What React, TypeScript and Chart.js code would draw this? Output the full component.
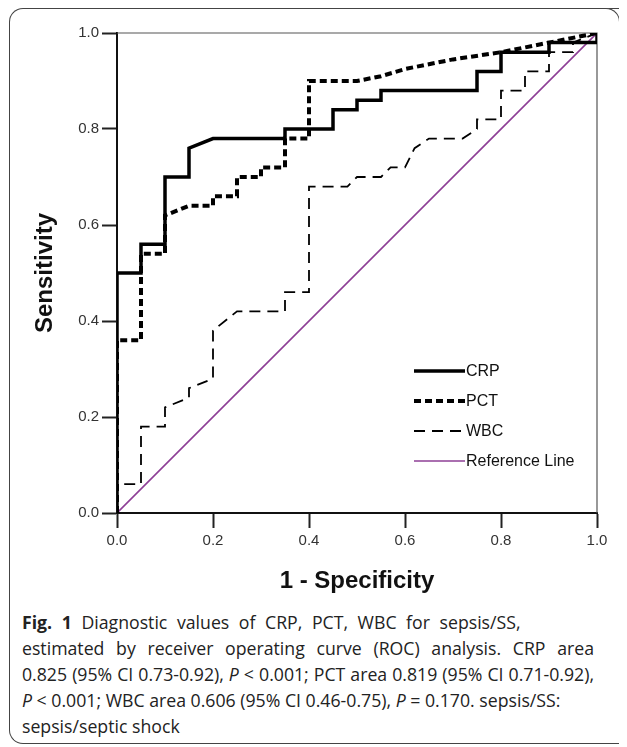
import React, { useEffect, useRef } from "react";
import { Chart, registerables } from "chart.js";

Chart.register(...registerables);

const crpX = [0, 0, 0.05, 0.05, 0.1, 0.1, 0.15, 0.15, 0.2, 0.35, 0.35, 0.45, 0.45, 0.5, 0.5, 0.55, 0.55, 0.75, 0.75, 0.8, 0.8, 0.9, 0.9, 1.0, 1.0];
const crpY = [0, 0.5, 0.5, 0.56, 0.56, 0.7, 0.7, 0.76, 0.78, 0.78, 0.8, 0.8, 0.84, 0.84, 0.86, 0.86, 0.88, 0.88, 0.92, 0.92, 0.96, 0.96, 0.98, 0.98, 1.0];

const pctX = [0, 0, 0.05, 0.05, 0.1, 0.1, 0.15, 0.2, 0.2, 0.25, 0.25, 0.3, 0.3, 0.35, 0.35, 0.4, 0.4, 0.5, 0.55, 0.6, 0.7, 0.8, 0.9, 1.0];
const pctY = [0, 0.36, 0.36, 0.54, 0.54, 0.62, 0.64, 0.64, 0.66, 0.66, 0.7, 0.7, 0.72, 0.72, 0.78, 0.78, 0.9, 0.9, 0.91, 0.925, 0.945, 0.96, 0.98, 1.0];

const wbcX = [0, 0, 0.05, 0.05, 0.1, 0.1, 0.15, 0.15, 0.2, 0.2, 0.25, 0.35, 0.35, 0.4, 0.4, 0.48, 0.5, 0.55, 0.57, 0.6, 0.62, 0.65, 0.72, 0.75, 0.75, 0.8, 0.8, 0.85, 0.85, 0.9, 0.9, 0.95, 0.95, 1.0];
const wbcY = [0, 0.06, 0.06, 0.18, 0.18, 0.22, 0.24, 0.26, 0.28, 0.38, 0.42, 0.42, 0.46, 0.46, 0.68, 0.68, 0.7, 0.7, 0.72, 0.72, 0.76, 0.78, 0.78, 0.8, 0.82, 0.82, 0.88, 0.88, 0.92, 0.92, 0.96, 0.96, 0.98, 1.0];

const refX = [0, 1];
const refY = [0, 1];

const seriesLabels = ["CRP", "PCT", "WBC", "Reference Line"];
const axisTicks = [0, 0.2, 0.4, 0.6, 0.8, 1.0];

const zip = (xs: number[], ys: number[]) => xs.map((x, i) => ({ x, y: ys[i] }));

const frameLines = {
  id: "frameLines",
  beforeDatasetsDraw(chart: any) {
    const { ctx, chartArea } = chart;
    ctx.save();
    ctx.strokeStyle = "#555";
    ctx.lineWidth = 1.2;
    ctx.beginPath();
    ctx.moveTo(chartArea.left, chartArea.top);
    ctx.lineTo(chartArea.right, chartArea.top);
    ctx.lineTo(chartArea.right, chartArea.bottom);
    ctx.stroke();
    ctx.restore();
  },
};

const insideLegend = {
  id: "insideLegend",
  afterDraw(chart: any) {
    const { ctx, chartArea } = chart;
    const x0 = chartArea.left + 297;
    const len = 51;
    chart.data.datasets.forEach((ds: any, i: number) => {
      const y = chartArea.top + 338 + i * 30;
      ctx.save();
      ctx.strokeStyle = ds.borderColor;
      ctx.lineWidth = ds.borderWidth;
      ctx.lineCap = "butt";
      ctx.setLineDash(ds.borderDash || []);
      ctx.beginPath();
      ctx.moveTo(x0, y);
      ctx.lineTo(x0 + len, y);
      ctx.stroke();
      ctx.setLineDash([]);
      ctx.fillStyle = "#111";
      ctx.font = '16px "Liberation Sans", Arial, sans-serif';
      ctx.textBaseline = "middle";
      ctx.fillText(ds.label, x0 + len + 1, y + 1);
      ctx.restore();
    });
  },
};

function RocChart() {
  const ref = useRef<HTMLCanvasElement | null>(null);
  useEffect(() => {
    if (!ref.current) return;
    const tickFont = { family: '"Liberation Sans", Arial, sans-serif', size: 15 };
    const titleFont = { family: '"Liberation Sans", Arial, sans-serif', size: 24, weight: "bold" as const };
    const chart = new Chart(ref.current, {
      type: "line",
      data: {
        datasets: [
          {
            label: seriesLabels[0],
            data: zip(crpX, crpY),
            borderColor: "#000",
            borderWidth: 3.5,
            pointRadius: 0,
            tension: 0,
            fill: false,
          },
          {
            label: seriesLabels[1],
            data: zip(pctX, pctY),
            borderColor: "#000",
            borderWidth: 4,
            borderDash: [7, 4],
            borderCapStyle: "butt",
            pointRadius: 0,
            tension: 0,
            fill: false,
          },
          {
            label: seriesLabels[2],
            data: zip(wbcX, wbcY),
            borderColor: "#000",
            borderWidth: 1.8,
            borderDash: [11, 7],
            pointRadius: 0,
            tension: 0,
            fill: false,
          },
          {
            label: seriesLabels[3],
            data: zip(refX, refY),
            borderColor: "#8e3f96",
            borderWidth: 1.6,
            pointRadius: 0,
            tension: 0,
            fill: false,
          },
        ],
      },
      options: {
        animation: false,
        responsive: false,
        devicePixelRatio: 1,
        layout: { padding: { left: 0, top: 18, right: 22, bottom: 0 } },
        plugins: { legend: { display: false }, tooltip: { enabled: false } },
        scales: {
          x: {
            type: "linear",
            min: 0,
            max: 1,
            afterBuildTicks: (s: any) => {
              s.ticks = axisTicks.map((v) => ({ value: v }));
            },
            afterFit: (s: any) => {
              s.height = 87;
            },
            ticks: {
              font: tickFont,
              color: "#333",
              padding: 4,
              maxRotation: 0,
              callback: (v: any) => Number(v).toFixed(1),
            },
            grid: {
              display: true,
              drawOnChartArea: false,
              drawTicks: true,
              tickLength: 15,
              tickWidth: 2,
              tickColor: "#222",
              color: "#222",
            },
            border: { display: true, color: "#111", width: 2 },
            title: {
              display: true,
              text: "1 - Specificity",
              font: titleFont,
              color: "#111",
              padding: { top: 0, bottom: 4 },
            },
          },
          y: {
            type: "linear",
            min: 0,
            max: 1,
            afterBuildTicks: (s: any) => {
              s.ticks = axisTicks.map((v) => ({ value: v }));
            },
            afterFit: (s: any) => {
              s.width = 108;
            },
            ticks: {
              font: tickFont,
              color: "#333",
              padding: 3,
              callback: (v: any) => Number(v).toFixed(1),
            },
            grid: {
              display: true,
              drawOnChartArea: false,
              drawTicks: true,
              tickLength: 15,
              tickWidth: 2,
              tickColor: "#222",
              color: "#222",
            },
            border: { display: true, color: "#111", width: 2 },
            title: {
              display: true,
              text: "Sensitivity",
              font: titleFont,
              color: "#111",
              padding: { top: 22, bottom: 0 },
            },
          },
        },
      },
      plugins: [frameLines, insideLegend],
    });
    return () => chart.destroy();
  }, []);
  return (
    <canvas
      ref={ref}
      width={610}
      height={585}
      style={{ position: "absolute", left: 1, top: 7, width: 610, height: 585 }}
    />
  );
}

export default function App() {
  const captionFont = '"Open Sans", "Noto Sans", sans-serif';
  const lineStyle: React.CSSProperties = { height: 26, lineHeight: "26px", whiteSpace: "nowrap" };
  const justified: React.CSSProperties = {
    height: 26,
    lineHeight: "26px",
    whiteSpace: "nowrap",
    textAlign: "justify",
    textAlignLast: "justify" as any,
  };
  return (
    <div style={{ position: "relative", width: 611, height: 739, overflow: "hidden", background: "#fff" }}>
      <div
        style={{
          position: "absolute",
          left: 1,
          top: 0,
          width: 640,
          height: 736,
          borderTop: "1.5px solid #444",
          borderLeft: "1.5px solid #444",
          borderBottom: "1.5px solid #444",
          borderTopLeftRadius: 14,
          borderBottomLeftRadius: 14,
          boxSizing: "border-box",
        }}
      />
      <div
        style={{
          position: "absolute",
          left: 596,
          top: 0,
          width: 16,
          height: 16,
          borderTop: "1.5px solid #444",
          borderRight: "1.5px solid #444",
          borderTopRightRadius: 14,
          boxSizing: "border-box",
          background: "#fff",
        }}
      />
      <RocChart />
      <div
        style={{
          position: "absolute",
          left: 14,
          top: 601,
          width: 572,
          fontFamily: captionFont,
          fontSize: 17.7,
          color: "#222",
        }}
      >
        <div style={{ ...lineStyle, wordSpacing: 5 }}>
          <b>Fig. 1</b> Diagnostic values of CRP, PCT, WBC for sepsis/SS,
        </div>
        <div style={justified}>
          estimated by receiver operating curve (ROC) analysis. CRP area
        </div>
        <div style={justified}>
          0.825 (95% CI 0.73-0.92), <i>P</i> &lt; 0.001; PCT area 0.819 (95% CI 0.71-0.92),
        </div>
        <div style={lineStyle}>
          <i>P</i> &lt; 0.001; WBC area 0.606 (95% CI 0.46-0.75), <i>P</i> = 0.170. sepsis/SS:
        </div>
        <div style={lineStyle}>sepsis/septic shock</div>
      </div>
    </div>
  );
}
